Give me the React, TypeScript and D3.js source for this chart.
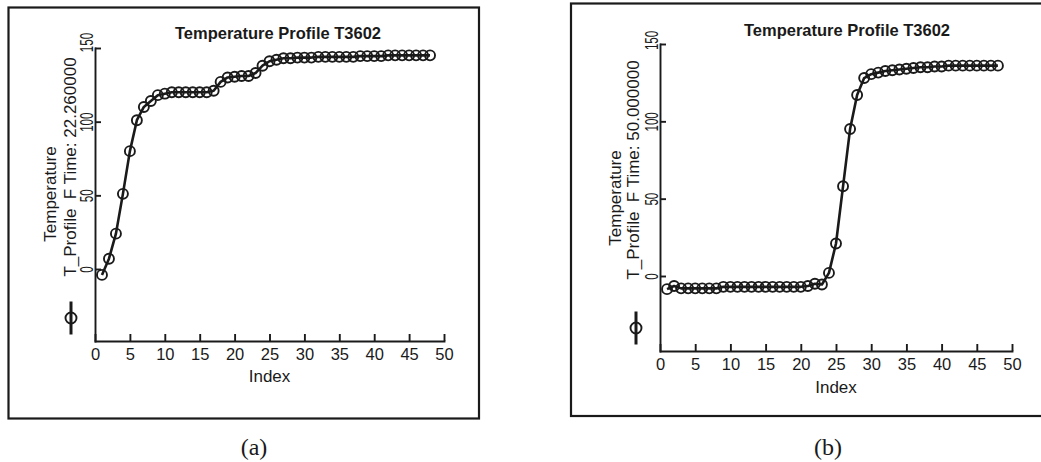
import React, { useEffect, useRef } from "react"
import * as d3 from "d3"

// temperature profiles (index 1..48)
const indexTicks = [0, 5, 10, 15, 20, 25, 30, 35, 40, 45, 50]
const tempTicks = [0, 50, 100, 150]

const profileA = [
  -4, 7, 24, 51, 80, 101, 110, 114, 118, 119,
  120, 120, 120, 120, 120, 120, 121, 127, 130, 130.5,
  131, 131, 133, 138, 141, 142, 143, 143, 143.5, 143.5,
  143.5, 144, 144, 144, 144, 144, 144, 144.5, 144.5, 144.5,
  144.5, 145, 145, 145, 145, 145, 145, 145,
]
const profileB = [
  -8.5, -6.5, -8, -8, -8, -8, -8, -8, -7, -7,
  -7, -7, -7, -7, -7, -7, -7, -7, -7, -7,
  -6.5, -5, -5.5, 2, 21, 58, 95, 117, 128, 130.5,
  131.5, 132.5, 133, 133.5, 134, 134.5, 135, 135, 135.5, 135.5,
  136, 136, 136, 136, 136, 136, 136, 136,
]

const title = "Temperature Profile T3602"
const yLabel = "Temperature"
const xLabel = "Index"

const ink = "#1a1a1a"
const sans = "'Liberation Sans', Arial, sans-serif"
const tickSqueeze = 0.66

const panels = [
  {
    id: "a",
    values: profileA,
    time: "22.260000",
    caption: "(a)",
    frame: { x: 8.5, y: 7.5, w: 470.5, h: 411 },
    plot: { left: 95, right: 444, top: 48, zero: 269, bottom: 341 },
    topLabelShift: 6,
    titleAt: [278, 39],
    label1: [56, 194],
    label2: [76, 167],
    legend: [71, 318],
    xLabelY: 382,
    captionAt: [254, 455],
  },
  {
    id: "b",
    values: profileB,
    time: "50.000000",
    caption: "(b)",
    frame: { x: 571, y: 3.5, w: 480, h: 412.5 },
    plot: { left: 660, right: 1012, top: 44, zero: 276, bottom: 351 },
    topLabelShift: 4,
    titleAt: [847, 36],
    label1: [621, 198],
    label2: [639, 170],
    legend: [636, 328],
    xLabelY: 393,
    captionAt: [828, 455],
  },
]

const Panel = ({ cfg }: { cfg: typeof panels[number] }) => {
  const ref = useRef<SVGGElement>(null)

  useEffect(() => {
    const g = d3.select(ref.current)
    g.selectAll("*").remove()
    const p = cfg.plot

    const x = d3.scaleLinear().domain([0, 50]).range([p.left, p.right])
    // 0 and 150 fixed, the bottom of the axis runs a little below zero
    const yMin = -150 * (p.bottom - p.zero) / (p.zero - p.top)
    const y = d3.scaleLinear().domain([yMin, 150]).range([p.bottom, p.top])

    g.append("rect")
      .attr("x", cfg.frame.x).attr("y", cfg.frame.y)
      .attr("width", cfg.frame.w).attr("height", cfg.frame.h)
      .attr("fill", "none").attr("stroke", ink).attr("stroke-width", 2.2)

    g.append("text")
      .attr("x", cfg.titleAt[0]).attr("y", cfg.titleAt[1])
      .attr("text-anchor", "middle")
      .attr("font-family", sans).attr("font-weight", "bold").attr("font-size", 16.5)
      .attr("fill", ink)
      .text(title)

    // x axis, ticks pointing up into the plot
    const xAxisG = g.append("g")
      .attr("transform", `translate(0,${p.bottom})`)
      .call(d3.axisBottom(x).tickValues(indexTicks).tickSizeInner(-7).tickSizeOuter(0).tickPadding(7))
    xAxisG.selectAll("path, line").attr("stroke", ink).attr("stroke-width", 1.9)
    xAxisG.selectAll("text")
      .style("font-family", sans).style("font-size", "16.5px").attr("fill", ink)

    // y axis, rotated and narrow tick labels
    const yAxisG = g.append("g")
      .attr("transform", `translate(${p.left},0)`)
      .call(d3.axisLeft(y).tickValues(tempTicks).tickSizeInner(-6).tickSizeOuter(0))
    yAxisG.selectAll("path, line").attr("stroke", ink).attr("stroke-width", 1.9)
    yAxisG.selectAll<SVGTextElement, number>("text")
      .attr("transform", `rotate(-90) scale(${tickSqueeze},1)`)
      .attr("x", d => (d === 150 ? cfg.topLabelShift / tickSqueeze : 0))
      .attr("y", -2.5).attr("dy", null)
      .attr("text-anchor", "middle")
      .style("font-family", sans).style("font-size", "17.5px").attr("fill", ink)
    g.selectAll(".domain").attr("stroke-linecap", "square")

    g.append("text")
      .attr("x", (p.left + p.right) / 2).attr("y", cfg.xLabelY)
      .attr("text-anchor", "middle")
      .attr("font-family", sans).attr("font-size", 17).attr("fill", ink)
      .text(xLabel)

    g.append("text")
      .attr("transform", `translate(${cfg.label1[0]},${cfg.label1[1]}) rotate(-90)`)
      .attr("text-anchor", "middle")
      .attr("font-family", sans).attr("font-size", 17).attr("fill", ink)
      .text(yLabel)
    g.append("text")
      .attr("transform", `translate(${cfg.label2[0]},${cfg.label2[1]}) rotate(-90)`)
      .attr("text-anchor", "middle")
      .attr("font-family", sans).attr("font-size", 17).attr("fill", ink)
      .style("white-space", "pre")
      .text(`T_Profile  F Time: ${cfg.time}`)

    // legend glyph
    const [lx, ly] = cfg.legend
    g.append("line")
      .attr("x1", lx).attr("x2", lx).attr("y1", ly - 16.5).attr("y2", ly + 16.5)
      .attr("stroke", ink).attr("stroke-width", 3)
    g.append("circle")
      .attr("cx", lx).attr("cy", ly).attr("r", 5.5)
      .attr("fill", "none").attr("stroke", ink).attr("stroke-width", 1.9)

    const pts = cfg.values.map((v, i) => ({ i: i + 1, v }))
    const line = d3.line<{ i: number; v: number }>()
      .x(d => x(d.i))
      .y(d => y(d.v))
    g.append("path")
      .attr("d", line(pts))
      .attr("fill", "none").attr("stroke", ink).attr("stroke-width", 2.6)
      .attr("stroke-linejoin", "round")
    g.append("g")
      .selectAll("circle")
      .data(pts)
      .join("circle")
      .attr("cx", d => x(d.i)).attr("cy", d => y(d.v)).attr("r", 5)
      .attr("fill", "none").attr("stroke", ink).attr("stroke-width", 1.9)

    g.append("text")
      .attr("x", cfg.captionAt[0]).attr("y", cfg.captionAt[1])
      .attr("text-anchor", "middle")
      .attr("font-family", "'Liberation Serif', 'Times New Roman', serif")
      .attr("font-size", 24).attr("fill", ink)
      .text(cfg.caption)
  }, [cfg])

  return <g ref={ref} />
}

const App = () => (
  <svg width={1041} height={462} style={{ position: "absolute", left: 0, top: 0, background: "#fff" }}>
    <rect width={1041} height={462} fill="#fff" />
    {panels.map(cfg => <Panel key={cfg.id} cfg={cfg} />)}
  </svg>
)

export default App
